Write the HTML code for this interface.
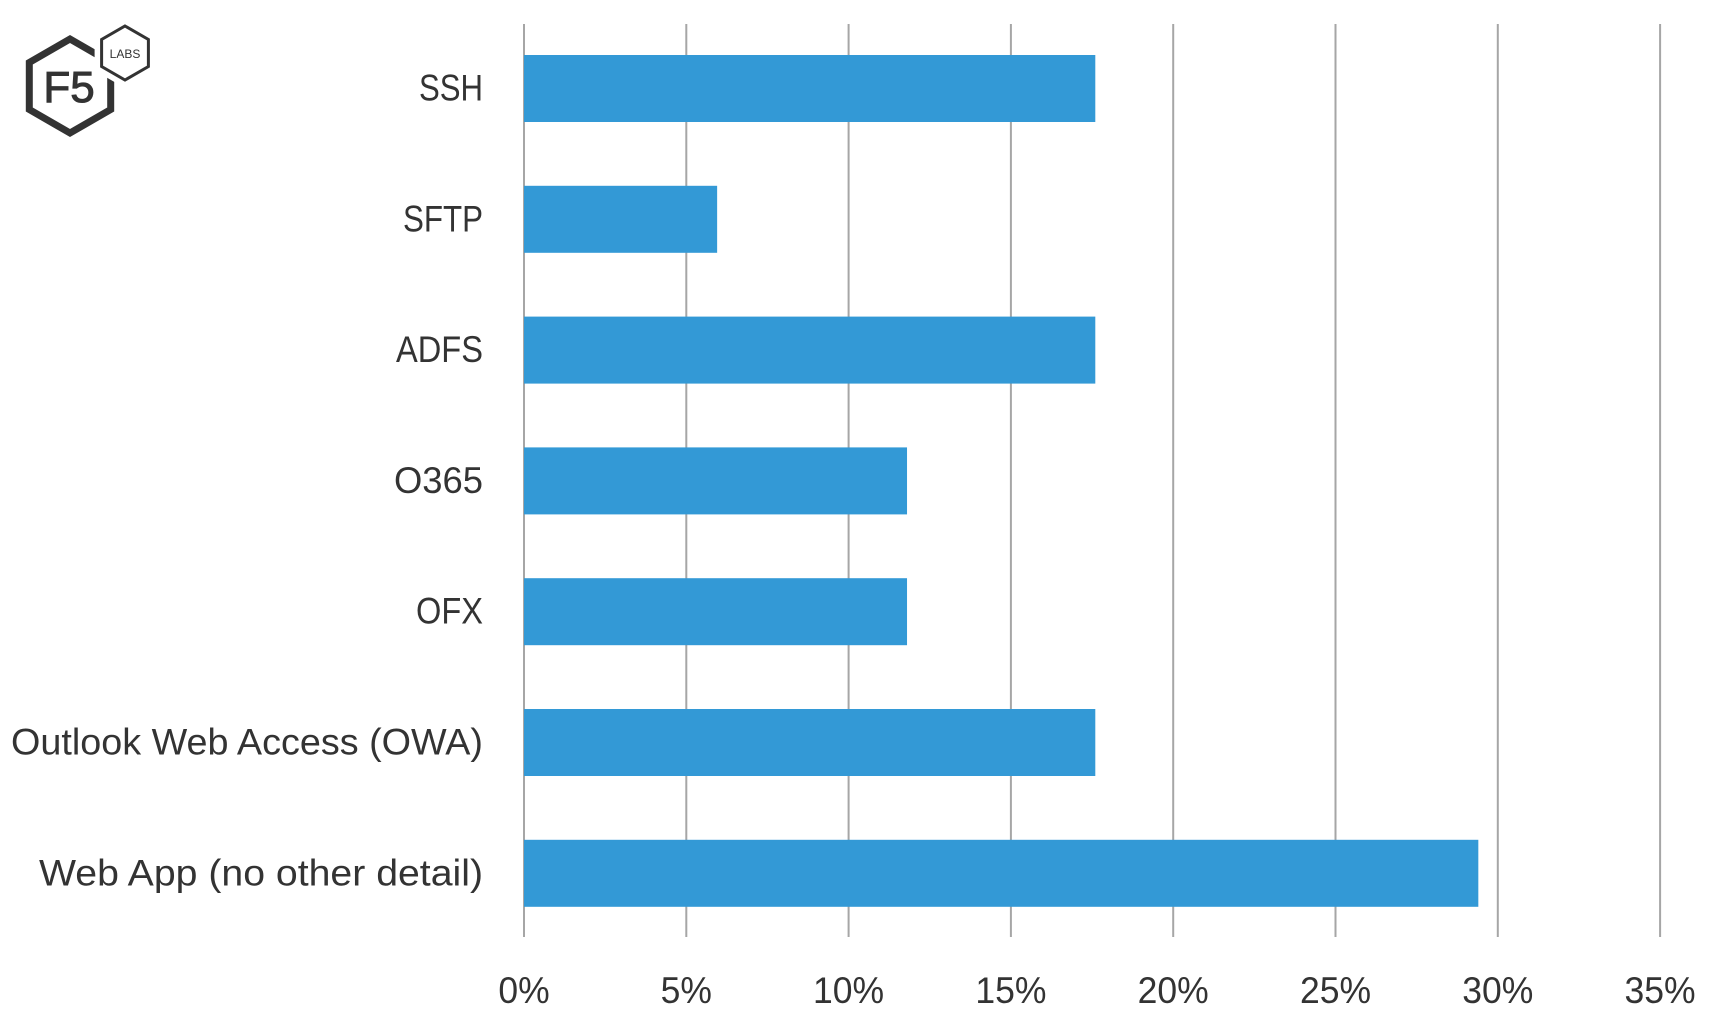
<!DOCTYPE html>
<html>
<head>
<meta charset="utf-8">
<style>
  html,body{margin:0;padding:0;background:#fff;}
  svg{display:block;}
  text{font-family:"Liberation Sans",sans-serif;fill:#333;}
</style>
</head>
<body>
<svg id="chart" width="1716" height="1027" viewBox="0 0 1716 1027" xmlns="http://www.w3.org/2000/svg">
  <g>
    <polygon points="70,39 110.7,62.5 110.7,109.5 70,133 29.3,109.5 29.3,62.5" fill="none" stroke="#333" stroke-width="7"/>
    <polygon points="125,26 148.4,39.5 148.4,66.5 125,80 101.6,66.5 101.6,39.5" fill="#fff" stroke="#fff" stroke-width="14"/>
    <polygon points="125,26 148.4,39.5 148.4,66.5 125,80 101.6,66.5 101.6,39.5" fill="#fff" stroke="#333" stroke-width="3"/>
    <text x="69" y="102" font-size="44" stroke="#333" stroke-width="1" text-anchor="middle">F5</text>
    <text x="125" y="58" font-size="12" text-anchor="middle">LABS</text>
  </g>
  <g id="grid"></g>
  <g id="bars"></g>
  <g id="ylabels"></g>
  <g id="xlabels"></g>
</svg>
<script>
const categories = ["SSH","SFTP","ADFS","O365","OFX","Outlook Web Access (OWA)","Web App (no other detail)"];
const values = [17.6, 5.95, 17.6, 11.8, 11.8, 17.6, 29.4];
const ticks = [0,5,10,15,20,25,30,35];
const tickLabels = ["0%","5%","10%","15%","20%","25%","30%","35%"];

// styling: rendered label widths to mimic the reference font
const labelWidthsPx = [64, 80, 87, 89, 67, 472, 444];

const NS = "http://www.w3.org/2000/svg";
const x0 = 524, pxPerUnit = 162.3/5;
function xScale(v){ return x0 + v*pxPerUnit; }
const rowTop = 23.1, rowStep = 130.8;
function yCenter(i){ return rowTop + rowStep*(i+0.5); }
const barH = 67;

const grid = document.getElementById('grid');
ticks.forEach((t,i)=>{
  const l = document.createElementNS(NS,'line');
  l.setAttribute('x1', xScale(t)); l.setAttribute('x2', xScale(t));
  l.setAttribute('y1', 24); l.setAttribute('y2', 937);
  l.setAttribute('stroke','#a6a6a6'); l.setAttribute('stroke-width','2');
  
  
  grid.appendChild(l);
  const tx = document.createElementNS(NS,'text');
  tx.setAttribute('x', xScale(t)); tx.setAttribute('y', 1003);
  tx.setAttribute('font-size','37'); tx.setAttribute('text-anchor','middle');
  tx.textContent = tickLabels[i];
  
  
  document.getElementById('xlabels').appendChild(tx);
});

const bars = document.getElementById('bars');
categories.forEach((c,i)=>{
  const r = document.createElementNS(NS,'rect');
  r.setAttribute('x', xScale(0)); r.setAttribute('y', yCenter(i)-barH/2);
  r.setAttribute('width', xScale(values[i])-xScale(0)); r.setAttribute('height', barH);
  r.setAttribute('fill','#3399d6');
  
  
  bars.appendChild(r);
  const tx = document.createElementNS(NS,'text');
  tx.setAttribute('x', 483); tx.setAttribute('y', yCenter(i)+12);
  tx.setAttribute('font-size','37'); tx.setAttribute('text-anchor','end');
  tx.textContent = c;
  if (labelWidthsPx[i]) {
    tx.setAttribute('textLength', labelWidthsPx[i]);
    tx.setAttribute('lengthAdjust','spacingAndGlyphs');
  }
  
  
  document.getElementById('ylabels').appendChild(tx);
});

document.querySelectorAll('#xlabels text').forEach(t=>{
  const w = t.getComputedTextLength();
  t.setAttribute('textLength', (w*0.96).toFixed(1));
  t.setAttribute('lengthAdjust','spacingAndGlyphs');
});
</script>
</body>
</html>
